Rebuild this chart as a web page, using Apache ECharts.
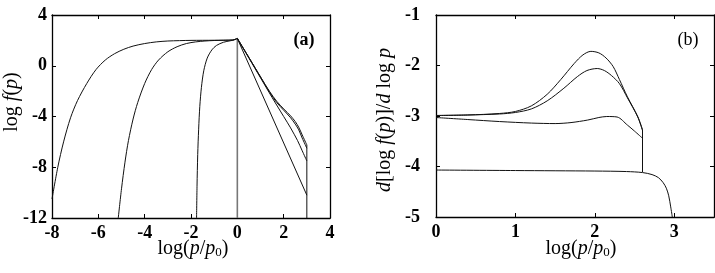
<!DOCTYPE html>
<html>
<head>
<meta charset="utf-8">
<script src="https://cdn.jsdelivr.net/npm/echarts@6/dist/echarts.min.js"></script>
<style>html,body{margin:0;padding:0;background:#fff}#c{width:715px;height:273px}</style>
</head>
<body>
<div id="c"></div>
<script>
// ---------- Panel (a): log f(p) vs log(p/p0) ----------
const aTicksX = [-8, -6, -4, -2, 0, 2, 4];
const aTicksY = [-12, -8, -4, 0, 4];
const aRiseA = [[-8.0,-10.5],[-7.75,-8.0],[-7.5,-6.0],[-7.2,-4.1],[-6.9,-2.75],[-6.5,-1.4],[-6.1,-0.3],[-5.7,0.45],[-5.3,0.95],[-4.9,1.3],[-4.5,1.55],[-4.0,1.75],[-3.5,1.88],[-3.0,1.95],[-2.5,1.98],[-2.0,2.0],[-1.0,2.01],[-0.2,2.03],[0,2.15]];
const aRiseB = [[-5.14,-12],[-5.0,-9.7],[-4.85,-7.6],[-4.7,-5.9],[-4.5,-4.2],[-4.3,-2.9],[-4.0,-1.4],[-3.7,-0.3],[-3.4,0.45],[-3.0,1.1],[-2.6,1.5],[-2.2,1.75],[-1.8,1.88],[-1.4,1.95],[-1.0,1.99],[-0.5,2.01],[-0.2,2.03],[0,2.15]];
const aRiseC = [[-1.76,-12],[-1.74,-9.5],[-1.71,-7],[-1.67,-5],[-1.62,-3.2],[-1.55,-1.7],[-1.45,-0.4],[-1.3,0.6],[-1.1,1.25],[-0.9,1.6],[-0.6,1.85],[-0.3,1.97],[-0.15,2.03],[0,2.15]];
const aVert0 = [[0,-12],[0,2.15]];
const aFall1 = [[0,2.15],[0.5,0.65],[1.0,-0.88],[1.4,-2.05],[1.7,-2.8],[2.0,-3.4],[2.3,-3.95],[2.5,-4.4],[2.65,-4.85],[2.8,-5.45],[3.0,-6.24]];
const aFall2 = [[0,2.15],[0.5,0.65],[1.0,-0.88],[1.4,-2.1],[1.7,-2.9],[2.0,-3.5],[2.3,-4.1],[2.5,-4.6],[2.65,-5.05],[2.8,-5.7],[3.0,-6.5]];
const aFall3 = [[0,2.15],[0.5,0.6],[1.0,-0.95],[1.5,-2.5],[2.0,-4.0],[2.3,-4.9],[2.6,-5.9],[2.8,-6.7],[3.0,-7.5]];
const aFall4 = [[0,2.15],[3.0,-10.2]];
const aDrop3 = [[3.0,-6.24],[3.0,-12]];

// ---------- Panel (b): d[log f(p)]/d log p vs log(p/p0) ----------
const bTicksX = [0, 1, 2, 3];
const bTicksY = [-5, -4, -3, -2, -1];
const bCurve1 = [[0,-2.99],[0.4,-2.98],[0.8,-2.95],[1.0,-2.91],[1.2,-2.8],[1.4,-2.57],[1.57,-2.28],[1.74,-1.96],[1.85,-1.79],[1.95,-1.72],[2.05,-1.75],[2.14,-1.85],[2.23,-2.02],[2.31,-2.28],[2.41,-2.62],[2.54,-3.01],[2.6,-3.27]];
const bCurve2 = [[0,-2.99],[0.4,-2.98],[0.8,-2.96],[1.0,-2.93],[1.2,-2.86],[1.4,-2.7],[1.61,-2.45],[1.78,-2.22],[1.9,-2.1],[2.03,-2.06],[2.12,-2.1],[2.21,-2.2],[2.31,-2.36],[2.41,-2.64],[2.54,-3.02],[2.6,-3.29]];
const bCurve3 = [[0,-3.03],[0.4,-3.07],[0.8,-3.11],[1.2,-3.14],[1.5,-3.15],[1.7,-3.13],[1.91,-3.08],[2.05,-3.03],[2.15,-3.01],[2.28,-3.02],[2.41,-3.18],[2.5,-3.3],[2.6,-3.44]];
const bCurve4 = [[0,-4.07],[1.0,-4.08],[2.0,-4.09],[2.4,-4.1],[2.6,-4.12],[2.72,-4.16],[2.8,-4.22],[2.86,-4.32],[2.9,-4.43],[2.93,-4.58],[2.955,-4.8],[2.975,-5.0]];
const bDrop = [[2.6,-3.27],[2.6,-4.11]];

const SERIF = '"Liberation Serif","DejaVu Serif",serif';
const chart = echarts.init(document.getElementById('c'), null, {renderer: 'canvas'});

function xAxisPair(gi, min, max, interval, ticks) {
  const base = {gridIndex: gi, type: 'value', min, max, interval,
    axisLine: {show: true, onZero: false, lineStyle: {color: '#000', width: 1.3}},
    splitLine: {show: false}};
  return [
    Object.assign({}, base, {position: 'bottom',
      axisTick: {inside: true, length: 4, lineStyle: {color: '#000'}, customValues: ticks},
      axisLabel: {margin: 6, color: '#000', fontFamily: SERIF, fontWeight: 'bold', fontSize: 18, customValues: ticks}}),
    Object.assign({}, base, {position: 'top',
      axisTick: {inside: true, length: 4, lineStyle: {color: '#000'}, customValues: ticks},
      axisLabel: {show: false}})
  ];
}
function yAxisPair(gi, min, max, interval, ticks, margin) {
  const base = {gridIndex: gi, type: 'value', min, max, interval,
    axisLine: {show: true, onZero: false, lineStyle: {color: '#000', width: 1.3}},
    splitLine: {show: false}};
  return [
    Object.assign({}, base, {position: 'left',
      axisTick: {inside: true, length: 4, lineStyle: {color: '#000'}, customValues: ticks},
      axisLabel: {margin: margin, color: '#000', fontFamily: SERIF, fontWeight: 'bold', fontSize: 18, customValues: ticks}}),
    Object.assign({}, base, {position: 'right',
      axisTick: {inside: true, length: 4, lineStyle: {color: '#000'}, customValues: ticks},
      axisLabel: {show: false}})
  ];
}

function line(data, xi, yi, opts) {
  return Object.assign({type: 'line', xAxisIndex: xi, yAxisIndex: yi, data,
    showSymbol: false, symbol: 'none', smooth: 0.3,
    lineStyle: {color: '#111', width: 1}, clip: true, animation: false, silent: true}, opts || {});
}

const rich = {
  r: {fontFamily: SERIF, fontSize: 20, color: '#000'},
  i: {fontFamily: SERIF, fontSize: 20, fontStyle: 'italic', color: '#000'},
  s: {fontFamily: SERIF, fontSize: 13, color: '#000', verticalAlign: 'bottom', padding: [8, 0, 0, 0]}
};
const xName = '{r|log(}{i|p}{r|/}{i|p}{s|0}{r|)}';

chart.setOption({
  animation: false,
  backgroundColor: '#fff',
  grid: [
    {left: 52, right: 385, top: 15, bottom: 55},
    {left: 436, right: 1, top: 15, bottom: 56}
  ],
  xAxis: [].concat(xAxisPair(0, -8, 4, 2, aTicksX), xAxisPair(1, 0, 3.5, 1, bTicksX)),
  yAxis: [].concat(yAxisPair(0, -12, 4, 4, aTicksY, 5), yAxisPair(1, -5, -1, 1, bTicksY, 16)),
  series: [
    line(aRiseA, 0, 0), line(aRiseB, 0, 0), line(aRiseC, 0, 0),
    line(aVert0, 0, 0, {smooth: false, lineStyle: {color: '#777', width: 1.6}}),
    line(aFall1, 0, 0), line(aFall2, 0, 0), line(aFall3, 0, 0), line(aFall4, 0, 0, {smooth: false}),
    line(aDrop3, 0, 0, {smooth: false}),
    line(bCurve1, 2, 2), line(bCurve2, 2, 2), line(bCurve3, 2, 2), line(bCurve4, 2, 2),
    line(bDrop, 2, 2, {smooth: false})
  ],
  graphic: [
    {type: 'text', x: 193, y: 249, style: {text: xName, rich, align: 'center', verticalAlign: 'middle'}},
    {type: 'text', x: 581, y: 249, style: {text: xName, rich, align: 'center', verticalAlign: 'middle'}},
    {type: 'text', x: 12, y: 102, rotation: Math.PI / 2,
      style: {text: '{r|log }{i|f}{r|(}{i|p}{r|)}', rich, align: 'center', verticalAlign: 'middle'}},
    {type: 'text', x: 385, y: 120, rotation: Math.PI / 2,
      style: {text: '{i|d}{r|[log }{i|f}{r|(}{i|p}{r|)]/}{i|d}{r| log }{i|p}', rich, align: 'center', verticalAlign: 'middle'}},
    {type: 'text', x: 304, y: 40, style: {text: '(a)', fontFamily: SERIF, fontWeight: 'bold', fontSize: 18, fill: '#000', align: 'center', verticalAlign: 'middle'}},
    {type: 'text', x: 688, y: 40, style: {text: '(b)', fontFamily: SERIF, fontSize: 18, fill: '#000', align: 'center', verticalAlign: 'middle'}}
  ]
});
</script>
</body>
</html>
